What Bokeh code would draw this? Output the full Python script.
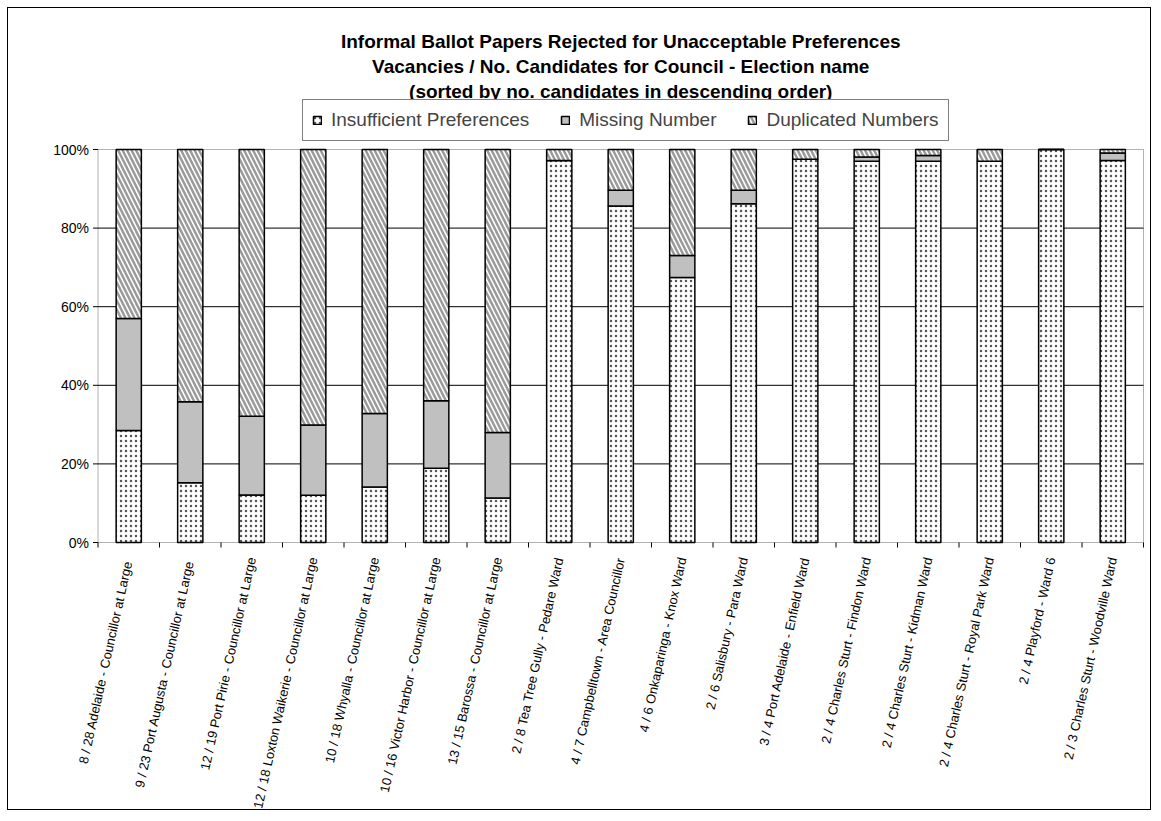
from bokeh.plotting import figure
from bokeh.models import (ColumnDataSource, Range1d, Legend, LegendItem, Label,
                          BoxAnnotation, LabelSet)
from bokeh.core.properties import value
from bokeh.embed import file_html
from bokeh.resources import INLINE

# ---------------- data ----------------
categories = [
    "8 /  28 Adelaide - Councillor at Large",
    "9 /  23 Port Augusta - Councillor at Large",
    "12 / 19 Port Pirie - Councillor at Large",
    "12 / 18 Loxton Waikerie - Councillor at Large",
    "10 / 18 Whyalla - Councillor at Large",
    "10 / 16 Victor Harbor - Councillor at Large",
    "13 / 15 Barossa - Councillor at Large",
    "2 / 8 Tea Tree Gully - Pedare Ward",
    "4 / 7 Campbelltown - Area Councillor",
    "4 / 6 Onkaparinga - Knox Ward",
    "2 / 6 Salisbury - Para Ward",
    "3 / 4 Port Adelaide - Enfield Ward",
    "2 / 4 Charles Sturt - Findon Ward",
    "2 / 4 Charles Sturt - Kidman Ward",
    "2 / 4 Charles Sturt - Royal Park Ward",
    "2 / 4 Playford - Ward 6",
    "2 / 3 Charles Sturt - Woodville Ward",
]
insufficient = [28.5, 15.2, 12.1, 12.0, 14.1, 18.9, 11.3, 97.2, 85.6, 67.4, 86.2, 97.5, 97.0, 97.0, 97.0, 100.0, 97.2]
missing      = [28.5, 20.6, 20.0, 17.9, 18.7, 17.2, 16.7, 0.0, 4.0, 5.6, 3.4, 0.0, 1.1, 1.5, 0.0, 0.0, 1.9]
duplicated   = [43.0, 64.2, 67.9, 70.1, 67.2, 63.9, 72.0, 2.8, 10.4, 27.0, 10.4, 2.5, 1.9, 1.5, 3.0, 0.0, 0.9]
series_names = ["Insufficient Preferences", "Missing Number", "Duplicated Numbers"]
y_ticks = [0, 0.2, 0.4, 0.6, 0.8, 1.0]
y_tick_labels = ["0%", "20%", "40%", "60%", "80%", "100%"]
title_lines = [
    "Informal Ballot Papers Rejected for Unacceptable Preferences",
    "Vacancies / No. Candidates for Council - Election name",
    "(sorted by no. candidates in descending order)",
]

n = len(categories)
centers = [i + 0.5 for i in range(n)]
boundaries = list(range(n + 1))
tot = [a + b + c for a, b, c in zip(insufficient, missing, duplicated)]
source = ColumnDataSource(dict(
    x=centers,
    ins=[a / t for a, t in zip(insufficient, tot)],
    mis=[b / t for b, t in zip(missing, tot)],
    dup=[c / t for c, t in zip(duplicated, tot)],
))
xlabel_source = ColumnDataSource(dict(x=centers, y=[0.0] * n, text=categories))
ylabel_source = ColumnDataSource(dict(x=[0.0] * len(y_ticks), y=y_ticks, text=y_tick_labels))

FONT = "Liberation Sans"

# frame = whole canvas; scales chosen so that the plot area (0..n, 0..100%)
# sits at the reference position
W, H = 1144, 803
X_PX = 61.5            # px per category
Y_PX = 393.0           # px per 100 %
LEFT_GAP = 89.5        # px from frame left to category 0
BAND_ABOVE = 141.0     # px between frame top and 100 %
x_start = -LEFT_GAP / X_PX
x_end = x_start + W / X_PX
y_end = 1 + BAND_ABOVE / Y_PX
y_start = y_end - H / Y_PX
TITLE_OFFSETS = [108, 83, 58]   # px above the 100 % line (line centres)

p = figure(width=W, height=H, output_backend="svg", toolbar_location=None,
           x_range=Range1d(x_start, x_end), y_range=Range1d(y_start, y_end),
           min_border_left=0, min_border_right=0, min_border_top=0, min_border_bottom=0)
p.styles = {"border": "1px solid black", "margin": "7px"}
p.background_fill_color = "white"
p.border_fill_color = "white"
p.outline_line_color = None
p.xaxis.visible = False
p.yaxis.visible = False
p.grid.visible = False

# horizontal grid lines inside the plot area
p.segment(x0=[0] * 4, x1=[n] * 4, y0=y_ticks[1:-1], y1=y_ticks[1:-1],
          line_color="black", line_width=1)

renderers = p.vbar_stack(
    ["ins", "mis", "dup"], x="x", width=0.41, source=source,
    fill_color=["white", "#c0c0c0", "white"],
    hatch_pattern=["dot", None, "left_diagonal_line"],
    hatch_color=["#555555", "#c0c0c0", "#9a9a9a"],
    hatch_scale=[5, 1, 9],
    hatch_weight=[0.8, 1, 2.5],
    line_color="black", line_width=1.5,
)

# plot-area border (0..n, 0..100%)
p.add_layout(BoxAnnotation(left=0, right=n, bottom=0, top=1, fill_alpha=0,
                           line_color="black", line_width=1))

# tick marks
p.ray(x=boundaries, y=[0] * len(boundaries), length=5, length_units="screen",
      angle=-90, angle_units="deg", line_color="black", line_width=1)
p.ray(x=[0] * len(y_ticks), y=y_ticks, length=5, length_units="screen",
      angle=180, angle_units="deg", line_color="black", line_width=1)

# tick labels
p.add_layout(LabelSet(x="x", y="y", text="text", source=ylabel_source,
                      text_align="right", text_baseline="middle", x_offset=-9,
                      text_font=value(FONT), text_font_size="14px", text_color="black"))
p.add_layout(LabelSet(x="x", y="y", text="text", source=xlabel_source,
                      angle=77.5, angle_units="deg", text_align="right", text_baseline="middle",
                      y_offset=-15, text_font=value(FONT), text_font_size="13px",
                      text_color="black"))

# title lines, centred over the plot area
for line, off in zip(title_lines, TITLE_OFFSETS):
    p.add_layout(Label(x=n / 2, y=1, y_offset=off, text=line, text_align="center",
                       text_baseline="middle", text_font=FONT, text_font_size="19px",
                       text_font_style="bold", text_color="black"))

legend = Legend(items=[LegendItem(label=nm, renderers=[r]) for nm, r in zip(series_names, renderers)],
                orientation="horizontal", location=(294, 670),
                label_text_font=FONT, label_text_font_size="19px",
                glyph_width=10, glyph_height=10, label_standoff=9, spacing=31,
                padding=9, margin=0, border_line_color="black", border_line_width=1,
                background_fill_color="white", background_fill_alpha=1)
p.add_layout(legend, "center")

open("out.html", "w").write(file_html(p, INLINE))
